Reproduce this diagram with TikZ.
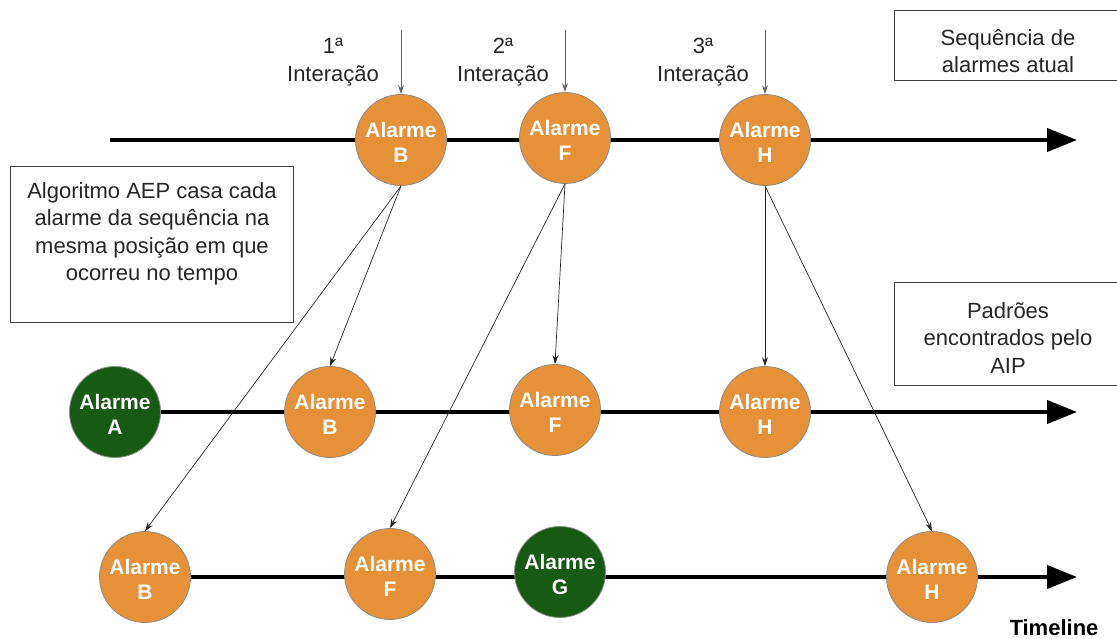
\documentclass[tikz,border=0pt]{standalone}
\usepackage{fontspec}
\setmainfont{Liberation Sans}
\usetikzlibrary{arrows.meta}
\definecolor{alorange}{HTML}{E69138}
\definecolor{algreen}{HTML}{165A14}
\definecolor{txtgray}{HTML}{262626}
\newcommand{\alarmtext}[1]{\raisebox{-5pt}[\height][\depth]{\begin{tabular}{@{}c@{}}Alarme\\#1\end{tabular}}}
\begin{document}
\begin{tikzpicture}[x=1pt,y=-1pt,
  alarm/.style={circle, minimum size=91pt, inner sep=0pt, draw=black!45, line width=0.8pt,
    fill=alorange, text=white,
    font=\fontsize{21}{25}\selectfont\bfseries},
  goodalarm/.style={alarm, fill=algreen},
  timeline/.style={line width=4pt, -{Triangle[length=30pt,width=23pt]}},
  link/.style={draw=black!85, line width=0.7pt, -{Stealth[length=9pt,width=6pt]}},
  iter/.style={draw=black!60, line width=0.8pt, -{Stealth[length=9pt,width=6pt]}},
  notebox/.style={draw=black!75, line width=1pt, inner sep=0pt},
  notetext/.style={align=center, text=txtgray, font=\fontsize{22}{27.5}\selectfont},
  label/.style={align=center, text=txtgray, font=\fontsize{22}{28}\selectfont}
]
\useasboundingbox (0,0) rectangle (1117,639);

% timelines
\coordinate (s1) at (110,140);
\coordinate (e1) at (1077,140);
\coordinate (s2) at (115,412);
\coordinate (e2) at (1077,412);
\coordinate (s3) at (145,577);
\coordinate (e3) at (1077,577);
\draw[timeline] (s1) -- (e1);
\draw[timeline] (s2) -- (e2);
\draw[timeline] (s3) -- (e3);

% row 1
\node[alarm] (B1) at (401,140) {\alarmtext{B}};
\node[alarm] (F1) at (565,138) {\alarmtext{F}};
\node[alarm] (H1) at (765,140) {\alarmtext{H}};

% row 2
\node[goodalarm] (A2) at (115,412) {\alarmtext{A}};
\node[alarm] (B2) at (330,412) {\alarmtext{B}};
\node[alarm] (F2) at (555,410) {\alarmtext{F}};
\node[alarm] (H2) at (765,412) {\alarmtext{H}};

% row 3
\node[alarm] (B3) at (145,577) {\alarmtext{B}};
\node[alarm] (F3) at (390,574) {\alarmtext{F}};
\node[goodalarm] (G3) at (560,572) {\alarmtext{G}};
\node[alarm] (H3) at (932,577) {\alarmtext{H}};

% iteration labels and arrows
\node[label] (L1) at (333,62) {1ª\\Interação};
\node[label] (L2) at (503,62) {2ª\\Interação};
\node[label] (L3) at (703,62) {3ª\\Interação};
\coordinate (t1) at (401,30);
\coordinate (t2) at (565,30);
\coordinate (t3) at (765,30);
\draw[iter] (t1) -- (B1.north);
\draw[iter] (t2) -- (F1.north);
\draw[iter] (t3) -- (H1.north);

% matching links
\draw[link] (B1.south) -- (B2.north);
\draw[link] (B1.south) -- (B3.north);
\draw[link] (F1.south) -- (F2.north);
\draw[link] (F1.south) -- (F3.north);
\draw[link] (H1.south) -- (H2.north);
\draw[link] (H1.south) -- (H3.north);

% notes
\node[notebox, minimum width=228pt, minimum height=70pt] (N1) at (1008,46) {};
\node[notetext] (T1) at (1008,51) {Sequência de\\alarmes atual};
\node[notebox, minimum width=283pt, minimum height=155pt] (N2) at (151.5,244.5) {};
\node[notetext] (T2) at (152,234) {Algoritmo AEP casa cada\\alarme da sequência na\\mesma posição em que\\ocorreu no tempo};
\node[notebox, minimum width=228pt, minimum height=102pt] (N3) at (1008,334) {};
\node[notetext] (T3) at (1008,338) {Padrões\\encontrados pelo\\AIP};

\node[font=\fontsize{22}{24}\selectfont\bfseries, text=black] (TL) at (1054,628) {Timeline};
\end{tikzpicture}
\end{document}
